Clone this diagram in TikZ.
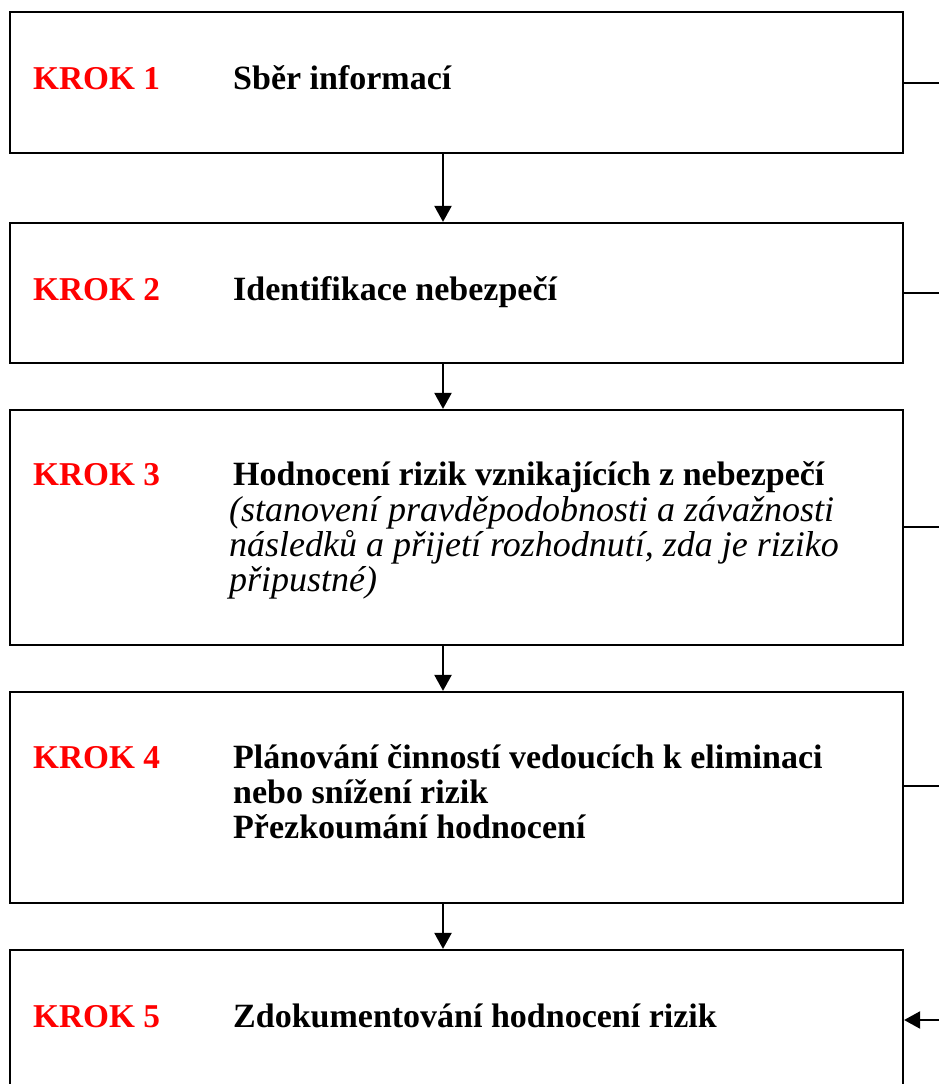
\documentclass[tikz,border=0pt]{standalone}
\usepackage{fontspec}
\setmainfont{Liberation Serif}
\usetikzlibrary{arrows.meta}
\begin{document}
\begin{tikzpicture}[x=1pt,y=-1pt,
  stepbox/.style={draw=black,line width=2.2pt,rectangle,inner sep=0pt,minimum width=893pt},
  krok/.style={anchor=base west,inner sep=0pt,text=red,font=\fontsize{33.3}{36}\selectfont\bfseries},
  txt/.style={anchor=base west,inner sep=0pt,font=\fontsize{34}{36}\selectfont\bfseries},
  itxt/.style={anchor=base west,inner sep=0pt,font=\fontsize{36}{36}\selectfont\itshape},
  arr/.style={line width=2.2pt,-{Triangle[length=16pt,width=17pt]}},
  stub/.style={line width=2.2pt}]
\useasboundingbox (0,0) rectangle (939,1084);
\fill[white] (0,0) rectangle (939,1084);
% boxes
\node[stepbox,minimum height=141pt] (b1) at (456.5,82.5) {};
\node[stepbox,minimum height=140pt] (b2) at (456.5,293) {};
\node[stepbox,minimum height=235pt] (b3) at (456.5,527.5) {};
\node[stepbox,minimum height=211pt] (b4) at (456.5,797.5) {};
\node[stepbox,minimum height=145pt] (b5) at (456.5,1022.5) {};
% texts
\node[krok] (k1) at (33,89) {KROK 1};
\node[txt] (t1) at (233,89) {Sběr informací};
\node[krok] (k2) at (33,300) {KROK 2};
\node[txt] (t2) at (233,300) {Identifikace nebezpečí};
\node[krok] (k3) at (33,485) {KROK 3};
\node[txt] (t3a) at (233,485) {Hodnocení rizik vznikajících z nebezpečí};
\node[itxt] (t3b) at (229,521) {(stanovení pravděpodobnosti a závažnosti};
\node[itxt] (t3c) at (229,556) {následků a přijetí rozhodnutí, zda je riziko};
\node[itxt] (t3d) at (229,591) {připustné)};
\node[krok] (k4) at (33,768) {KROK 4};
\node[txt] (t4a) at (233,768) {Plánování činností vedoucích k eliminaci};
\node[txt] (t4b) at (233,803) {nebo snížení rizik};
\node[txt] (t4c) at (233,838) {Přezkoumání hodnocení};
\node[krok] (k5) at (33,1027) {KROK 5};
\node[txt] (t5) at (233,1027) {Zdokumentování hodnocení rizik};
% down arrows
\coordinate (ax) at (443,0);
\draw[arr] (b1.south -| ax) -- (b2.north -| ax);
\draw[arr] (b2.south -| ax) -- (b3.north -| ax);
\draw[arr] (b3.south -| ax) -- (b4.north -| ax);
\draw[arr] (b4.south -| ax) -- (b5.north -| ax);
% right stubs
\coordinate (r1) at (939,83);
\coordinate (r2) at (939,293);
\coordinate (r3) at (939,527);
\coordinate (r4) at (939,786);
\coordinate (r5) at (939,1020);
\draw[stub] (r1 -| b1.east) -- (r1);
\draw[stub] (r2 -| b2.east) -- (r2);
\draw[stub] (r3 -| b3.east) -- (r3);
\draw[stub] (r4 -| b4.east) -- (r4);
\draw[arr] (r5) -- (r5 -| b5.east);
\end{tikzpicture}
\end{document}
